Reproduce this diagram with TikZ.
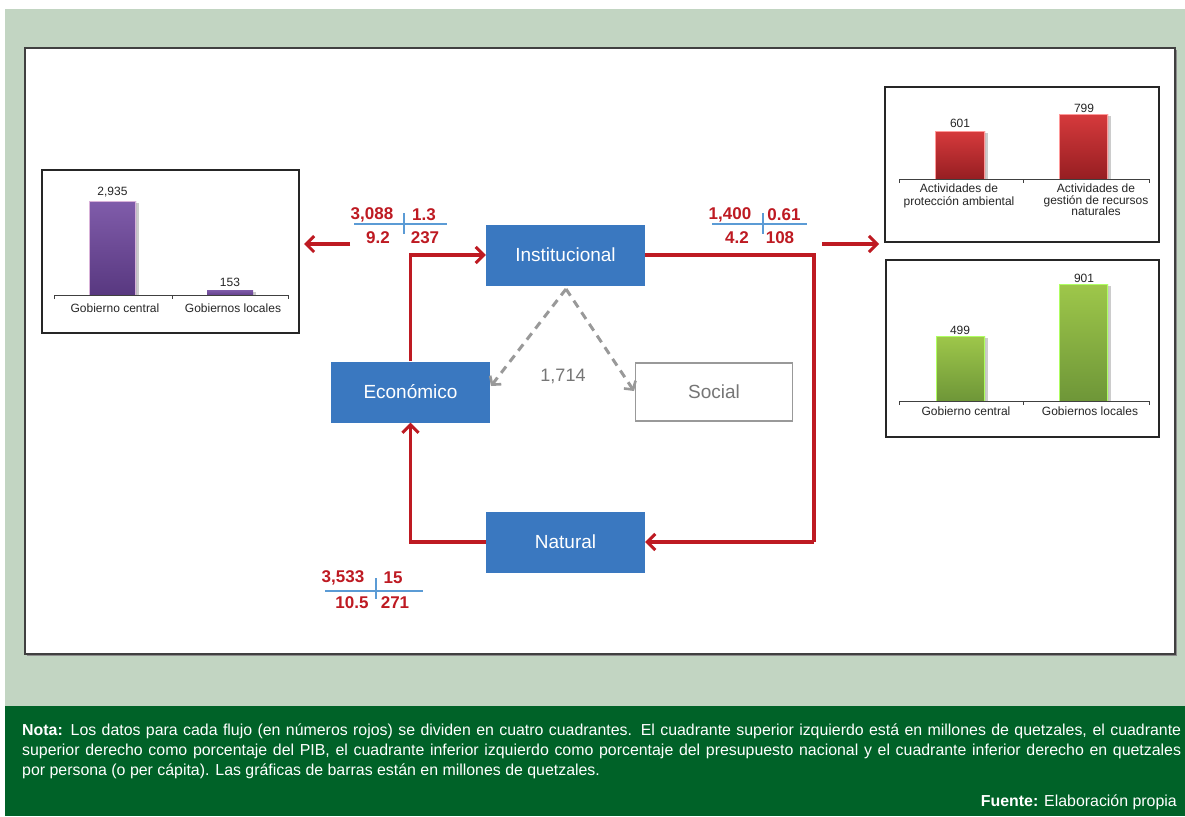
\documentclass[tikz,border=0pt]{standalone}
\usepackage{fontspec}
\setmainfont{Liberation Sans}
\usetikzlibrary{arrows.meta}
\definecolor{bglight}{HTML}{C2D5C2}
\definecolor{bgdark}{HTML}{006228}
\definecolor{boxblue}{HTML}{3A78C0}
\definecolor{flowred}{HTML}{BE1A22}
\definecolor{qblue}{HTML}{5B9BD5}
\definecolor{dgray}{HTML}{999999}
\definecolor{txtgray}{HTML}{767676}
\tikzset{
  mainbox/.style={fill=boxblue, text=white, minimum width=159pt, minimum height=61pt, inner sep=0pt, font=\fontsize{19}{22}\selectfont},
  socbox/.style={draw=dgray, line width=1.6pt, fill=white, text=txtgray, minimum width=157pt, minimum height=58pt, inner sep=0pt, font=\fontsize{19}{22}\selectfont},
  redflow/.style={draw=flowred, line width=3.2pt, -{Straight Barb[length=8pt,width=16pt,line width=3pt]}},
  redline/.style={draw=flowred, line width=3.2pt},
  grayflow/.style={draw=dgray, line width=3pt, dash pattern=on 8pt off 6pt, -{Straight Barb[length=6pt,width=14pt,line width=2.6pt]}},
  qnum/.style={text=flowred, font=\fontsize{17}{19}\selectfont\bfseries, inner sep=0pt},
  qline/.style={draw=qblue, line width=1.2pt},
  chartbox/.style={draw=black!85, line width=1.4pt, fill=white},
  axis/.style={draw=black!75, line width=0.8pt},
  vallab/.style={font=\fontsize{12}{13}\selectfont, text=black!85, inner sep=0pt},
  catlab/.style={font=\fontsize{12}{12.5}\selectfont, text=black!85, inner sep=0pt, align=center},
  notetxt/.style={font=\fontsize{15.9}{18}\selectfont, text=white, inner sep=0pt, anchor=west},
}
\begin{document}
\begin{tikzpicture}[x=1pt,y=-1pt]
\useasboundingbox (0,0) rectangle (1185,816);
\fill[white] (0,0) rectangle (1185,816);
\fill[bglight] (5,9) rectangle (1185,706);
\fill[bgdark] (5,706) rectangle (1185,816);
% main panel
\fill[black!45] (27,50) rectangle (1177,656);
\draw[black!75, line width=1.5pt, fill=white] (25,48) rectangle (1175,654);

% ---------- left chart ----------
\draw[chartbox] (42,170) rectangle (299,333);
\fill[black!20] (136,203) rectangle (138.5,295);
\shade[top color={rgb,255:red,128;green,92;blue,170}, bottom color={rgb,255:red,88;green,56;blue,128}] (89,201) rectangle (136,295);
\draw[white!70!violet, line width=0.6pt] (89.5,201.5) rectangle (135.5,295);
\fill[black!20] (253,292) rectangle (255.5,295);
\shade[top color={rgb,255:red,128;green,92;blue,170}, bottom color={rgb,255:red,100;green,66;blue,140}] (207,290) rectangle (253,295);
\draw[axis] (54,299) -- (54,295) -- (288,295) -- (288,299);
\draw[axis] (172,295) -- (172,299);
\node[vallab] (v1) at (112.5,192) {2,935};
\node[vallab] (v2) at (230,282) {153};
\node[catlab] (c1) at (115,308) {Gobierno central};
\node[catlab] (c2) at (233,308) {Gobiernos locales};

% ---------- top right chart ----------
\draw[chartbox] (885,87) rectangle (1159,242);
\fill[black!20] (985,133) rectangle (987.5,179);
\shade[top color={rgb,255:red,214;green,58;blue,60}, bottom color={rgb,255:red,150;green,30;blue,34}] (935,131) rectangle (985,179);
\draw[white!60!red, line width=0.6pt] (935.5,131.5) rectangle (984.5,179);
\fill[black!20] (1108,116) rectangle (1110.5,179);
\shade[top color={rgb,255:red,214;green,58;blue,60}, bottom color={rgb,255:red,150;green,30;blue,34}] (1059,114) rectangle (1108,179);
\draw[white!60!red, line width=0.6pt] (1059.5,114.5) rectangle (1107.5,179);
\draw[axis] (899,183) -- (899,179) -- (1149,179) -- (1149,183);
\draw[axis] (1023,179) -- (1023,183);
\node[vallab] (v3) at (960,123) {601};
\node[vallab] (v4) at (1084,108) {799};
\node[catlab, anchor=north] (c3) at (959,184) {Actividades de\\protección ambiental};
\node[catlab, anchor=north, font=\fontsize{12}{11.5}\selectfont] (c4) at (1096,184) {Actividades de\\gestión de recursos\\naturales};

% ---------- lower right chart ----------
\draw[chartbox] (886,260) rectangle (1159,437);
\fill[black!20] (985,338) rectangle (987.5,401);
\shade[top color={rgb,255:red,158;green,199;blue,74}, bottom color={rgb,255:red,110;green,150;blue,56}] (936,336) rectangle (985,401);
\draw[white!55!green!70!yellow, line width=0.6pt] (936.5,336.5) rectangle (984.5,401);
\fill[black!20] (1108,286) rectangle (1110.5,401);
\shade[top color={rgb,255:red,158;green,199;blue,74}, bottom color={rgb,255:red,110;green,150;blue,56}] (1059,284) rectangle (1108,401);
\draw[white!55!green!70!yellow, line width=0.6pt] (1059.5,284.5) rectangle (1107.5,401);
\draw[axis] (899,405) -- (899,401) -- (1149,401) -- (1149,405);
\draw[axis] (1023,401) -- (1023,405);
\node[vallab] (v5) at (960,330) {499};
\node[vallab] (v6) at (1084,278) {901};
\node[catlab] (c5) at (966,411) {Gobierno central};
\node[catlab] (c6) at (1090,411) {Gobiernos locales};

% ---------- main nodes ----------
\node[mainbox] (inst) at (565.5,255) {Institucional};
\node[mainbox] (eco) at (410.5,392) {Económico};
\node[socbox] (soc) at (714,392) {Social};
\node[mainbox] (nat) at (565.5,542) {Natural};

% red flows
\coordinate (rc) at (814,542);
\draw[redline] (inst.east) -| (rc);
\draw[redflow] (rc) -- (nat.east);
\draw[redflow] (nat.west) -| (eco.south);
\draw[redflow] (eco.north) |- (inst.west);

% side arrows
\coordinate (la1) at (350,244);
\coordinate (la2) at (304,244);
\coordinate (ra1) at (822,244);
\coordinate (ra2) at (879,244);
\draw[redflow] (la1) -- (la2);
\draw[redflow] (ra1) -- (ra2);

% gray dashed flows
\coordinate (gtop) at (566,289);
\coordinate (gl) at (491,386);
\coordinate (gr) at (634,391);
\draw[grayflow] (gtop) -- (gl);
\draw[grayflow] (gtop) -- (gr);
\node[text=txtgray, font=\fontsize{18}{20}\selectfont, inner sep=0pt] (g1714) at (563,376) {1,714};

% quadrant 1
\draw[qline] (354,224) -- (447,224);
\draw[qline] (404,213) -- (404,234);
\node[qnum] (q1a) at (372,215) {3,088};
\node[qnum] (q1b) at (424,215) {1.3};
\node[qnum] (q1c) at (378,238) {9.2};
\node[qnum] (q1d) at (425,238) {237};
% quadrant 2
\draw[qline] (712,224) -- (807,224);
\draw[qline] (763,213) -- (763,234);
\node[qnum] (q2a) at (730,215) {1,400};
\node[qnum] (q2b) at (784,215) {0.61};
\node[qnum] (q2c) at (737,238) {4.2};
\node[qnum] (q2d) at (780,238) {108};
% quadrant 3
\draw[qline] (325,591) -- (423,591);
\draw[qline] (376,578) -- (376,599);
\node[qnum] (q3a) at (343,578) {3,533};
\node[qnum] (q3b) at (393,578) {15};
\node[qnum] (q3c) at (352,603) {10.5};
\node[qnum] (q3d) at (395,603) {271};

% note
\node[notetxt] (n1) at (22,731) {\makebox[1159pt][s]{\textbf{Nota:} Los datos para cada flujo (en números rojos) se dividen en cuatro cuadrantes. El cuadrante superior izquierdo está en millones de quetzales, el cuadrante}};
\node[notetxt] (n2) at (22,751) {\makebox[1159pt][s]{superior derecho como porcentaje del PIB, el cuadrante inferior izquierdo como porcentaje del presupuesto nacional y el cuadrante inferior derecho en quetzales}};
\node[notetxt] (n3) at (22,771) {por persona (o per cápita). Las gráficas de barras están en millones de quetzales.};
\node[notetxt, anchor=east] (n4) at (1177,802) {\textbf{Fuente:} Elaboración propia};
\end{tikzpicture}
\end{document}
